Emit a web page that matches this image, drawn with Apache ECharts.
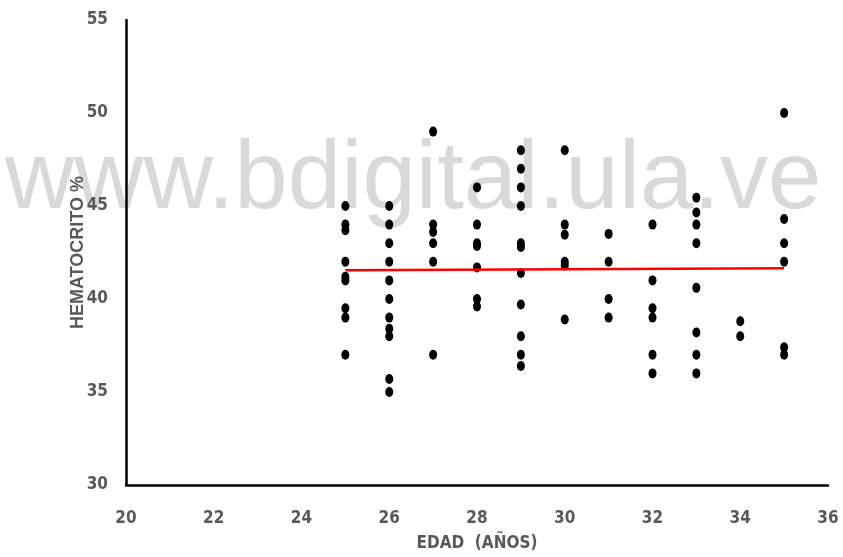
<!DOCTYPE html>
<html>
<head>
<meta charset="utf-8">
<script src="https://cdn.jsdelivr.net/npm/echarts@6/dist/echarts.min.js"></script>
<style>
  html, body { margin: 0; padding: 0; background: #fff; }
  #chart { width: 843px; height: 557px; }
</style>
</head>
<body>
<div id="chart"></div>
<script>
// edades (años) y valores de hematocrito
const ages = [25, 26, 27, 28, 29, 30, 31, 32, 33, 34, 35];
const hto25 = [45.0, 44.0, 43.7, 42.0, 41.2, 41.0, 39.5, 39.0, 37.0];
const hto26 = [45.0, 44.0, 43.0, 42.0, 41.0, 40.0, 39.0, 38.4, 38.0, 35.7, 35.0];
const hto27 = [49.0, 44.0, 43.6, 43.0, 42.0, 37.0];
const hto28 = [46.0, 44.0, 43.0, 42.85, 41.7, 40.0, 39.6];
const hto29 = [48.0, 47.0, 46.0, 45.0, 43.0, 42.8, 41.4, 39.7, 38.0, 37.0, 36.4];
const hto30 = [48.0, 44.0, 43.45, 42.0, 41.8, 38.9];
const hto31 = [43.5, 42.0, 40.0, 39.0];
const hto32 = [44.0, 41.0, 39.5, 39.0, 37.0, 36.0];
const hto33 = [45.45, 44.65, 44.0, 43.0, 40.6, 38.2, 37.0, 36.0];
const hto34 = [38.8, 38.0];
const hto35 = [50.0, 44.3, 43.0, 42.0, 37.4, 37.0];
const htoByAge = [hto25, hto26, hto27, hto28, hto29, hto30, hto31, hto32, hto33, hto34, hto35];

// línea de tendencia
const trendX = [25, 35];
const trendY = [41.55, 41.65];

const xTicks = [20, 22, 24, 26, 28, 30, 32, 34, 36];
const yTicks = [30, 35, 40, 45, 50, 55];

const points = [];
ages.forEach(function (a, i) {
  htoByAge[i].forEach(function (v) { points.push([a, v]); });
});

const labelFont = "'Liberation Sans Narrow', 'DejaVu Sans Condensed', sans-serif";

const chart = echarts.init(document.getElementById('chart'));
chart.setOption({
  animation: false,
  grid: { left: 126, right: 15, top: 20, bottom: 69 },
  graphic: [{
    type: 'text',
    z: -10,
    left: 5,
    top: 134,
    style: {
      text: 'www.bdigital.ula.ve',
      fontFamily: 'Liberation Sans, Arial, sans-serif',
      fontSize: 96,
      fill: '#d9d9d9'
    }
  }],
  xAxis: {
    type: 'value',
    min: xTicks[0],
    max: xTicks[xTicks.length - 1],
    interval: 2,
    name: 'EDAD  (AÑOS)',
    nameLocation: 'middle',
    nameGap: 50,
    nameMoveOverlap: false,
    nameTextStyle: { color: '#595959', fontSize: 17, fontWeight: 'bold', fontFamily: labelFont },
    axisLine: { show: true, lineStyle: { color: '#000', width: 2.5 } },
    axisTick: { show: false },
    splitLine: { show: false },
    axisLabel: { color: '#595959', fontSize: 17, fontWeight: 'bold', fontFamily: labelFont, margin: 25 }
  },
  yAxis: {
    type: 'value',
    min: yTicks[0],
    max: yTicks[yTicks.length - 1],
    interval: 5,
    name: 'HEMATOCRITO %',
    nameLocation: 'middle',
    nameGap: 39,
    nameMoveOverlap: false,
    nameRotate: 90,
    nameTextStyle: { color: '#595959', fontSize: 18, fontWeight: 'bold', fontFamily: 'Liberation Sans, Arial, sans-serif' },
    axisLine: { show: true, lineStyle: { color: '#000', width: 2.5 } },
    axisTick: { show: false },
    splitLine: { show: false },
    axisLabel: { color: '#595959', fontSize: 17, fontWeight: 'bold', fontFamily: labelFont, margin: 18 }
  },
  series: [
    {
      type: 'scatter',
      data: points,
      symbol: 'circle',
      symbolSize: [8, 10],
      itemStyle: { color: '#000', opacity: 1 },
      z: 3
    },
    {
      type: 'line',
      data: trendX.map(function (x, i) { return [x, trendY[i]]; }),
      showSymbol: false,
      lineStyle: { color: '#ff0000', width: 2.5 },
      z: 4
    }
  ]
});
</script>
</body>
</html>
